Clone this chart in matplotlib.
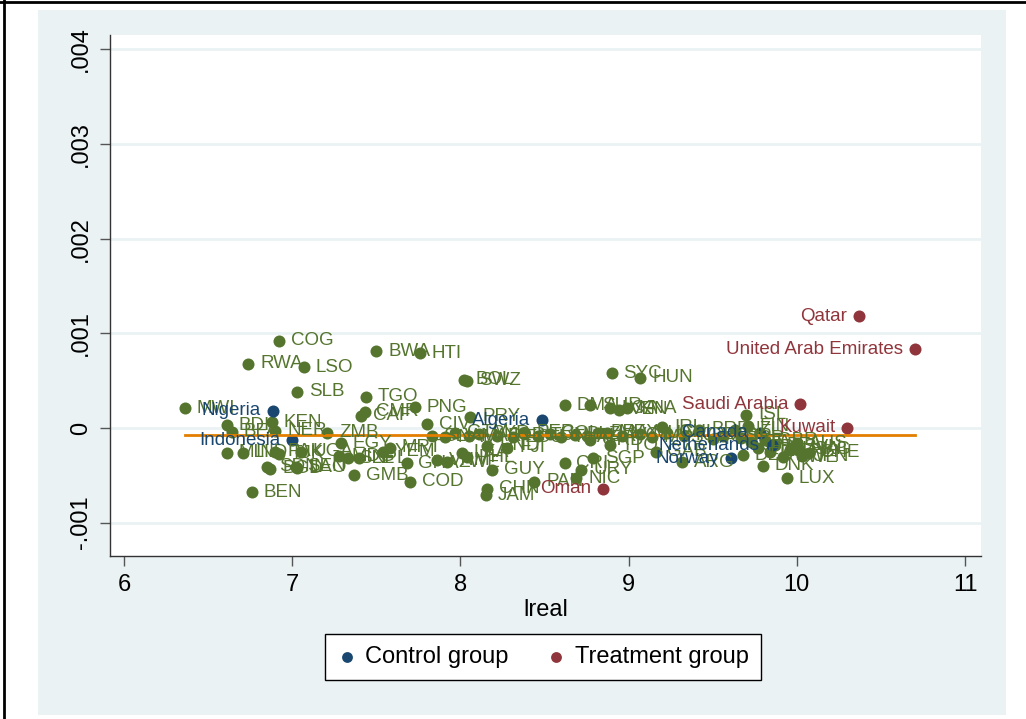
import matplotlib.pyplot as plt
from matplotlib.patches import Rectangle
from matplotlib.lines import Line2D

plt.rcParams['font.family'] = ['Liberation Sans', 'DejaVu Sans']

# === Data (lreal, residual) ===
other_codes = ["MWI", "COG", "RWA", "LSO", "SLB", "BWA", "HTI", "BOL", "SWZ", "SYC",
               "HUN", "TGO", "CMR", "CAF", "PNG", "CIV", "PRY", "BDI", "BFA", "KEN",
               "NER", "ZMB", "EGY", "GMB", "BEN", "MLI", "IND", "SDN", "BGD", "PAK",
               "TJK", "SEN", "UGA", "LAO", "MDG", "SLE", "NPL", "YEM", "MRT", "GHA",
               "COD", "VNM", "ZWE", "LKA", "PHL", "GUY", "CHN", "JAM", "FJI", "HND",
               "PAN", "NIC", "URY", "CRI", "SGP", "MEX", "GRD", "TTO", "DMA", "SUR",
               "LCA", "VEN", "KNA", "ISL", "FIN", "IRL", "GAB", "ARG", "DNK", "LUX",
               "CHE", "USA", "SLV", "NAM", "GTM", "MAR", "SYR", "JOR", "ECU", "PER",
               "TUN", "COL", "THA", "BLZ", "TUR", "BRA", "VCT", "MUS", "MYS", "CHL",
               "KOR", "BRB", "PRT", "ESP", "NZL", "ISR", "ITA", "FRA", "GBR", "AUT",
               "BEL", "SWE", "SVN", "AUS", "JPN", "HKG", "DEU"]
other_x = [6.36, 6.92, 6.74, 7.07, 7.03, 7.50, 7.76, 8.02, 8.04, 8.90,
           9.07, 7.44, 7.43, 7.41, 7.73, 7.80, 8.06, 6.61, 6.64, 6.88,
           6.90, 7.21, 7.29, 7.37, 6.76, 6.61, 6.71, 6.85, 6.87, 6.90,
           6.92, 7.02, 7.05, 7.03, 7.28, 7.33, 7.40, 7.54, 7.58, 7.68,
           7.70, 7.86, 7.92, 8.01, 8.04, 8.19, 8.16, 8.15, 8.28, 8.16,
           8.44, 8.69, 8.72, 8.62, 8.79, 8.87, 8.77, 8.89, 8.62, 8.77,
           8.89, 8.94, 8.99, 9.70, 9.71, 9.20, 9.16, 9.32, 9.80, 9.94,
           10.07, 9.96, 7.83, 7.91, 7.97, 8.05, 8.11, 8.22, 8.31, 8.38,
           8.46, 8.53, 8.60, 8.68, 8.75, 8.82, 8.96, 9.07, 9.14, 9.23,
           9.33, 9.42, 9.50, 9.56, 9.63, 9.67, 9.73, 9.77, 9.81, 9.84,
           9.87, 9.92, 9.97, 10.00, 10.03, 10.01, 9.68]
other_y = [0.00021, 0.00092, 0.00068, 0.00064, 0.00038, 0.00081, 0.00079, 0.00051, 0.00050, 0.00058,
           0.00053, 0.00033, 0.00017, 0.00013, 0.00022, 0.00004, 0.00012, 0.00003, -0.00004, 0.00006,
           -0.00003, -0.00005, -0.00016, -0.00050, -0.00068, -0.00026, -0.00026, -0.00041, -0.00043, -0.00025,
           -0.00027, -0.00041, -0.00025, -0.00042, -0.00030, -0.00032, -0.00032, -0.00025, -0.00021, -0.00037,
           -0.00057, -0.00034, -0.00036, -0.00026, -0.00031, -0.00044, -0.00064, -0.00071, -0.00021, -0.00019,
           -0.00057, -0.00053, -0.00044, -0.00037, -0.00032, -0.00005, -0.00013, -0.00018, 0.00024, 0.00024,
           0.00021, 0.00019, 0.00021, 0.00014, 0.00002, 0.00001, -0.00025, -0.00036, -0.00040, -0.00053,
           -0.00026, -0.00023, -0.00009, -0.00010, -0.00005, -0.00009, -0.00006, -0.00008, -0.00010, -0.00005,
           -0.00008, -0.00006, -0.00010, -0.00007, -0.00009, -0.00005, -0.00008, -0.00006, -0.00010, -0.00005,
           -0.00008, -0.00002, -0.00012, -0.00009, -0.00002, -0.00011, -0.00015, -0.00021, -0.00013, -0.00025,
           -0.00018, -0.00031, -0.00021, -0.00016, -0.00030, -0.00023, -0.00029]

control_names = ["Nigeria", "Indonesia", "Algeria", "Canada", "Netherlands", "Norway"]
control_x = [6.886, 7.00, 8.485, 9.78, 9.85, 9.61]
control_y = [0.00018, -0.00013, 0.00008, -0.00005, -0.00018, -0.00032]

treat_names = ["Qatar", "United Arab Emirates", "Saudi Arabia", "Kuwait", "Oman"]
treat_x = [10.37, 10.70, 10.02, 10.30, 8.85]
treat_y = [0.00118, 0.00083, 0.00025, 0.0, -0.00064]

fit_x = [6.36, 10.70]
fit_y = [-0.000074, -0.000074]

xticks = [6, 7, 8, 9, 10, 11]
yticks = [-0.001, 0, 0.001, 0.002, 0.003, 0.004]
yticklabels = ["-.001", "0", ".001", ".002", ".003", ".004"]

# === Colors (Stata s2color) ===
green = "#55752F"
navy = "#1A476F"
maroon = "#90353B"
orange = "#E37E00"
bg = "#EAF2F3"

fig = plt.figure(figsize=(10.26, 7.19), dpi=100)
fig.patch.set_facecolor("white")
fig.add_artist(Rectangle((38 / 1026, 1 - 715 / 719), (1006 - 38) / 1026, (715 - 10) / 719,
                         transform=fig.transFigure, facecolor=bg, edgecolor="none", zorder=-5))
fig.add_artist(Line2D([4 / 1026, 4 / 1026], [0, 1], transform=fig.transFigure, color="black", lw=2))
fig.add_artist(Line2D([0, 1], [1 - 2 / 719, 1 - 2 / 719], transform=fig.transFigure, color="black", lw=2))

ax = fig.add_axes([110 / 1026, 1 - 556 / 719, (981 - 110) / 1026, (556 - 35) / 719])
ax.set_facecolor("white")
ax.set_xlim(5.917, 11.095)
ax.set_ylim(-0.001352, 0.00415)

for yt in yticks:
    ax.axhline(yt, color=bg, lw=2, zorder=0)

ms = 75
ax.scatter(other_x, other_y, s=ms, color=green, zorder=3, linewidths=0)
ax.scatter(control_x, control_y, s=ms, color=navy, zorder=3, linewidths=0, label="Control group")
ax.scatter(treat_x, treat_y, s=ms, color=maroon, zorder=3, linewidths=0, label="Treatment group")
ax.plot(fit_x, fit_y, color=orange, lw=2, zorder=4)

fs_lab = 13.5
for name, x, y in zip(other_codes, other_x, other_y):
    ax.annotate(name, (x, y), xytext=(8.5, 0), textcoords="offset points",
                ha="left", va="center", color=green, fontsize=fs_lab, zorder=5)
for name, x, y in zip(control_names, control_x, control_y):
    ax.annotate(name, (x, y), xytext=(-8.5, 0), textcoords="offset points",
                ha="right", va="center", color=navy, fontsize=fs_lab, zorder=5)
for name, x, y in zip(treat_names, treat_x, treat_y):
    ax.annotate(name, (x, y), xytext=(-8.5, 0), textcoords="offset points",
                ha="right", va="center", color=maroon, fontsize=fs_lab, zorder=5)

for s in ["top", "right"]:
    ax.spines[s].set_visible(False)
for s in ["left", "bottom"]:
    ax.spines[s].set_color("#333333")
    ax.spines[s].set_linewidth(1)

ax.set_xticks(xticks)
ax.set_yticks(yticks)
ax.set_yticklabels(yticklabels, rotation=90, va="center")
ax.tick_params(axis="both", labelsize=17, length=7, width=1, color="#555555", pad=6)
ax.set_xlabel("lreal", fontsize=17, labelpad=2)

fig.legend(loc="center", bbox_to_anchor=(543 / 1026, 1 - 657 / 719), ncol=2,
           fontsize=17, frameon=True, fancybox=False, edgecolor="black", framealpha=1,
           markerscale=0.9, handlelength=0.8, handletextpad=0.4, columnspacing=1.6, borderpad=0.5)

fig.savefig("out.png", dpi=100, facecolor=fig.get_facecolor())
